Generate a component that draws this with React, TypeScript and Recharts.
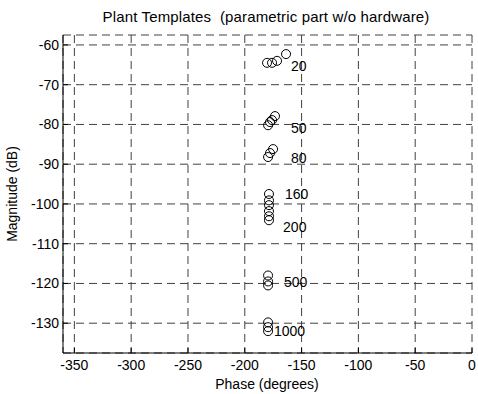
import React from 'react';
import { ScatterChart, Scatter, XAxis, YAxis, CartesianGrid } from 'recharts';

const phaseTicks = [-350, -300, -250, -200, -150, -100, -50, 0];
const magTicks = [-130, -120, -110, -100, -90, -80, -70, -60];

const freqLabels = ['20', '50', '80', '160', '200', '500', '1000'];

const phase20 = [-180.4, -176.0, -171.6, -163.7];
const mag20 = [-64.5, -64.5, -64.0, -62.3];
const phase50 = [-179.5, -177.8, -176.0, -173.4];
const mag50 = [-80.2, -79.4, -78.9, -77.9];
const phase80 = [-179.5, -177.8, -175.1];
const mag80 = [-88.2, -87.2, -86.2];
const phase160 = [-178.7, -178.7, -178.7];
const mag160 = [-97.5, -99.1, -100.3];
const phase200 = [-178.7, -178.7, -178.7];
const mag200 = [-101.8, -103.1, -104.1];
const phase500 = [-179.5, -179.5, -179.5];
const mag500 = [-118.0, -119.5, -120.5];
const phase1000 = [-179.5, -179.5, -179.5];
const mag1000 = [-129.8, -131.0, -132.0];

const labelPhase = [-159.3, -159.3, -159.3, -164.6, -166.3, -165.5, -174.3];
const labelMag = [-65.3, -80.9, -88.5, -97.5, -105.9, -119.7, -132.0];

const templates: [number[], number[]][] = [
  [phase20, mag20],
  [phase50, mag50],
  [phase80, mag80],
  [phase160, mag160],
  [phase200, mag200],
  [phase500, mag500],
  [phase1000, mag1000],
];

const points = templates.flatMap(([ph, mg]) => ph.map((p, i) => ({ phase: p, mag: mg[i] })));
const labelData = freqLabels.map((l, i) => ({ phase: labelPhase[i], mag: labelMag[i], label: l }));

const FONT = 'Arial, "Liberation Sans", Helvetica, sans-serif';
const FS = 14;

const BottomTick = (props: any) => {
  const { x, y, payload } = props;
  return (
    <g>
      <line x1={x} y1={y} x2={x} y2={y - 5} stroke="#000" />
      <text x={x} y={y + 17} textAnchor="middle" fontFamily={FONT} fontSize={FS} fill="#000">
        {payload.value}
      </text>
    </g>
  );
};
const TopTick = (props: any) => {
  const { x, y } = props;
  return <line x1={x} y1={y} x2={x} y2={y + 5} stroke="#000" />;
};
const LeftTick = (props: any) => {
  const { x, y, payload } = props;
  return (
    <g>
      <line x1={x} y1={y} x2={x + 5} y2={y} stroke="#000" />
      <text x={x - 4} y={y + 5} textAnchor="end" fontFamily={FONT} fontSize={FS} fill="#000">
        {payload.value}
      </text>
    </g>
  );
};
const RightTick = (props: any) => {
  const { x, y } = props;
  return <line x1={x} y1={y} x2={x - 5} y2={y} stroke="#000" />;
};

const CircleShape = (p: any) => (
  <circle cx={p.cx} cy={p.cy} r={4.5} fill="none" stroke="#000" strokeWidth={1} />
);
const LabelShape = (p: any) => (
  <text x={p.cx} y={p.cy + 5} textAnchor="start" fontFamily={FONT} fontSize={FS} fill="#000">
    {p.payload.label}
  </text>
);

export default function App() {
  return (
    <div style={{ position: 'absolute', left: 0, top: 0, width: 478, height: 394, background: '#fff' }}>
      <ScatterChart width={478} height={394} margin={{ top: 35, right: 6, bottom: 0, left: 0 }}>
        <CartesianGrid xAxisId="b" yAxisId="l" stroke="#404040" strokeDasharray="8 5" />
        <XAxis
          xAxisId="b"
          type="number"
          dataKey="phase"
          domain={[-360, 0]}
          ticks={phaseTicks}
          interval={0}
          height={41}
          tickSize={0}
          tickMargin={0}
          tickLine={false}
          tick={<BottomTick />}
          axisLine={{ stroke: '#000' }}
          allowDataOverflow
        />
        <XAxis
          xAxisId="t"
          orientation="top"
          type="number"
          dataKey="phase"
          domain={[-360, 0]}
          ticks={phaseTicks}
          interval={0}
          height={0}
          tickSize={0}
          tickMargin={0}
          tickLine={false}
          tick={<TopTick />}
          axisLine={{ stroke: '#000' }}
          allowDataOverflow
        />
        <YAxis
          yAxisId="l"
          type="number"
          dataKey="mag"
          domain={[-137.5, -57.5]}
          ticks={magTicks}
          interval={0}
          width={63}
          tickSize={0}
          tickMargin={0}
          tickLine={false}
          tick={<LeftTick />}
          axisLine={{ stroke: '#000' }}
          allowDataOverflow
        />
        <YAxis
          yAxisId="r"
          orientation="right"
          type="number"
          dataKey="mag"
          domain={[-137.5, -57.5]}
          ticks={magTicks}
          interval={0}
          width={0}
          tickSize={0}
          tickMargin={0}
          tickLine={false}
          tick={<RightTick />}
          axisLine={{ stroke: '#000' }}
          allowDataOverflow
        />
        <Scatter xAxisId="b" yAxisId="l" data={points} shape={CircleShape} isAnimationActive={false} />
        <Scatter xAxisId="b" yAxisId="l" data={labelData} shape={LabelShape} isAnimationActive={false} />
      </ScatterChart>
      <svg width={478} height={394} style={{ position: 'absolute', left: 0, top: 0, pointerEvents: 'none' }}>
        <text
          x={266}
          y={22}
          textAnchor="middle"
          fontFamily={FONT}
          fontSize={15}
          letterSpacing={0.15}
          fill="#000"
          style={{ whiteSpace: 'pre' }}
        >
          {'Plant Templates  (parametric part w/o hardware)'}
        </text>
        <text x={267} y={389} textAnchor="middle" fontFamily={FONT} fontSize={FS} fill="#000">
          Phase (degrees)
        </text>
        <text
          x={17}
          y={194}
          textAnchor="middle"
          fontFamily={FONT}
          fontSize={FS}
          fill="#000"
          transform="rotate(-90 17 194)"
        >
          Magnitude (dB)
        </text>
      </svg>
    </div>
  );
}
